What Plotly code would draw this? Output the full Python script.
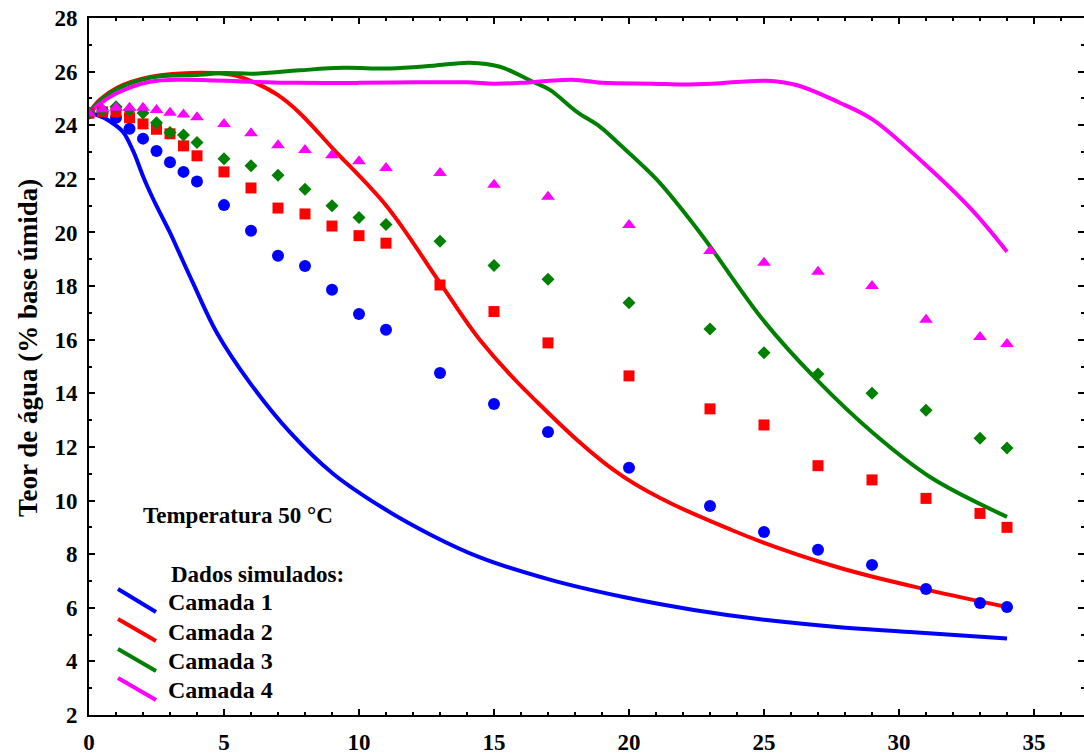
import plotly.graph_objects as go

# ---------------- data ----------------
t_exp = [0, 0.5, 1, 1.5, 2, 2.5, 3, 3.5, 4, 5, 6, 7, 8, 9, 10, 11, 13, 15, 17, 20, 23, 25, 27, 29, 31, 33, 34]
exp_c1 = [24.45, 24.46, 24.28, 23.87, 23.5, 23.04, 22.62, 22.26, 21.9, 21.02, 20.06, 19.13, 18.75, 17.86, 16.96, 16.37,
          14.76, 13.6, 12.56, 11.22, 9.8, 8.83, 8.16, 7.6, 6.7, 6.18, 6.03]
exp_c2 = [24.45, 24.5, 24.5, 24.28, 24.05, 23.85, 23.68, 23.23, 22.86, 22.26, 21.66, 20.91, 20.69, 20.24, 19.88, 19.6,
          18.04, 17.05, 15.88, 14.65, 13.42, 12.82, 11.3, 10.77, 10.08, 9.52, 9.0]
exp_c3 = [24.45, 24.57, 24.69, 24.57, 24.46, 24.09, 23.73, 23.64, 23.36, 22.75, 22.49, 22.13, 21.61, 21.0, 20.56, 20.3,
          19.67, 18.77, 18.25, 17.38, 16.4, 15.51, 14.72, 14.0, 13.37, 12.32, 11.96]
exp_c4 = [24.45, 24.6, 24.65, 24.65, 24.65, 24.57, 24.47, 24.4, 24.3, 24.05, 23.7, 23.25, 23.08, 22.88, 22.66, 22.4,
          22.22, 21.78, 21.33, 20.28, 19.31, 18.87, 18.53, 18.0, 16.74, 16.1, 15.84]

t_s1 = [0, 0.4, 0.8, 1.26, 1.63, 2.0, 2.26, 2.52, 3.0, 3.3, 3.85, 4.74, 5.96, 7.44, 9.04, 10.89, 12.74, 14.48, 17.1,
        19.8, 22.4, 25.1, 27.7, 30.4, 34.0]
sim_c1 = [24.46, 24.35, 24.13, 23.75, 23.05, 22.1, 21.5, 20.95, 19.99, 19.33, 18.12, 16.25, 14.39, 12.55, 11.0, 9.72,
          8.68, 7.88, 7.04, 6.4, 5.92, 5.54, 5.28, 5.1, 4.85]

t_s2 = [0, 0.4, 1.04, 2.26, 4.1, 5.3, 6.07, 7.0, 7.81, 9.04, 11.04, 13.0, 14.48, 16.44, 19.8, 23.8, 27.7, 31.1, 34.0]
sim_c2 = [24.46, 24.95, 25.4, 25.8, 25.96, 25.88, 25.62, 25.12, 24.45, 23.12, 20.96, 18.12, 15.99, 13.83, 10.88, 8.9,
          7.52, 6.66, 6.03]

t_s3 = [0, 0.4, 1.04, 2.26, 4.1, 5.0, 6.07, 7.81, 9.4, 11.15, 12.74, 14.1, 15.22, 16.44, 17.07, 18.07, 18.93, 19.67,
        21.04, 22.63, 24.96, 26.96, 29.04, 31.15, 34.0]
sim_c3 = [24.46, 24.9, 25.35, 25.77, 25.88, 25.95, 25.92, 26.05, 26.14, 26.12, 26.22, 26.33, 26.18, 25.62, 25.32, 24.5,
          23.94, 23.27, 21.96, 19.99, 16.74, 14.5, 12.52, 10.88, 9.39]

t_s4 = [0, 0.4, 1.04, 2.26, 3.48, 5.96, 7.81, 10, 12, 14, 15, 16, 17.9, 19, 20.9, 22, 23.1, 25.1, 26.2, 27.8, 29.04,
        30.9, 32.7, 34.0]
sim_c4 = [24.46, 24.8, 25.2, 25.62, 25.7, 25.62, 25.58, 25.58, 25.6, 25.6, 25.55, 25.58, 25.7, 25.58, 25.55, 25.52,
          25.55, 25.66, 25.5, 24.84, 24.2, 22.6, 20.84, 19.28]

series_names = ["Camada 1", "Camada 2", "Camada 3", "Camada 4"]
colors = ["#0000FF", "#FF0000", "#008000", "#FF00FF"]
symbols = ["circle", "square", "diamond", "triangle-up"]
sizes = [12, 11, 10, 12]

x_ticks = [0, 5, 10, 15, 20, 25, 30, 35]
y_ticks = [2, 4, 6, 8, 10, 12, 14, 16, 18, 20, 22, 24, 26, 28]

FONT = "Liberation Serif"

fig = go.Figure()

sims = [(t_s1, sim_c1), (t_s2, sim_c2), (t_s3, sim_c3), (t_s4, sim_c4)]
for (tx, ty), name, c in zip(sims, series_names, colors):
    fig.add_trace(go.Scatter(x=tx, y=ty, mode="lines", name=name,
                             line=dict(color=c, width=4, shape="spline", smoothing=1.0),
                             showlegend=False))

exps = [exp_c1, exp_c2, exp_c3, exp_c4]
for ey, name, c, s, sz in zip(exps, series_names, colors, symbols, sizes):
    fig.add_trace(go.Scatter(x=t_exp, y=ey, mode="markers", name=name + " (exp)",
                             marker=dict(color=c, symbol=s, size=sz, line=dict(width=0)),
                             showlegend=False))

# ---------------- legend drawn as paper shapes / annotations ----------------
# plot-area edges in window pixels
L = 89.0; R = 1084.0; T = 18.0; B = 715.0
def px(xp):
    return (xp - L) / (R - L)
def py(yp):
    return (B - yp) / (B - T)

leg_y = [(589, 612), (619, 641), (649, 671), (678, 700)]
leg_text_y = [602, 632, 661, 690]
for (y0, y1), ty, name, c in zip(leg_y, leg_text_y, series_names, colors):
    fig.add_shape(type="line", xref="paper", yref="paper",
                  x0=px(118), y0=py(y0), x1=px(156), y1=py(y1),
                  line=dict(color=c, width=4))
    fig.add_annotation(xref="paper", yref="paper", x=px(166), y=py(ty),
                       text=name, showarrow=False, xanchor="left", yanchor="middle",
                       font=dict(family=FONT, size=24, color="black", weight="bold"))

fig.add_annotation(xref="paper", yref="paper", x=px(169), y=py(574),
                   text="Dados simulados:", showarrow=False, xanchor="left", yanchor="middle",
                   font=dict(family=FONT, size=23, color="black", weight="bold"))
fig.add_annotation(xref="paper", yref="paper", x=px(141), y=py(515),
                   text="Temperatura 50 °C", showarrow=False, xanchor="left", yanchor="middle",
                   font=dict(family=FONT, size=23, color="black", weight="bold"))

# y-axis title
fig.add_annotation(xref="paper", yref="paper", x=px(28), y=py(348),
                   text="Teor de água (% base úmida)", showarrow=False, textangle=-90,
                   xanchor="center", yanchor="middle",
                   font=dict(family=FONT, size=27, color="black", weight="bold"))

axis_common = dict(showgrid=False, zeroline=False, showline=True, linecolor="black", linewidth=2,
                   ticks="inside", tickcolor="black", tickwidth=2, ticklen=6, mirror="allticks",
                   automargin=False, ticklabeloverflow="allow",
                   tickfont=dict(family=FONT, size=23, color="black", weight="bold"))

fig.update_xaxes(range=[0, (R - L) / 27.0], tickvals=x_ticks, ticktext=[str(v) for v in x_ticks],
                 minor=dict(dtick=1, ticks="inside", ticklen=3, tickcolor="black", tickwidth=1.5),
                 ticklabelstandoff=5, **axis_common)
fig.update_yaxes(range=[2, 28], tickvals=y_ticks, ticktext=[str(v) for v in y_ticks],
                 minor=dict(dtick=1, ticks="inside", ticklen=3, tickcolor="black", tickwidth=1.5),
                 ticklabelstandoff=5, **axis_common)

W = 1084
H = 754
fig.update_layout(width=W, height=H,
                  margin=dict(l=int(L), r=int(W - R), t=int(T), b=int(H - B), autoexpand=False),
                  paper_bgcolor="white", plot_bgcolor="white", showlegend=False)

# remove the default 8px page margin so the figure fills the window exactly
fig.write_html("out.html", config={"displayModeBar": False},
               post_script="document.body.style.margin='0';document.body.style.overflow='hidden';")
